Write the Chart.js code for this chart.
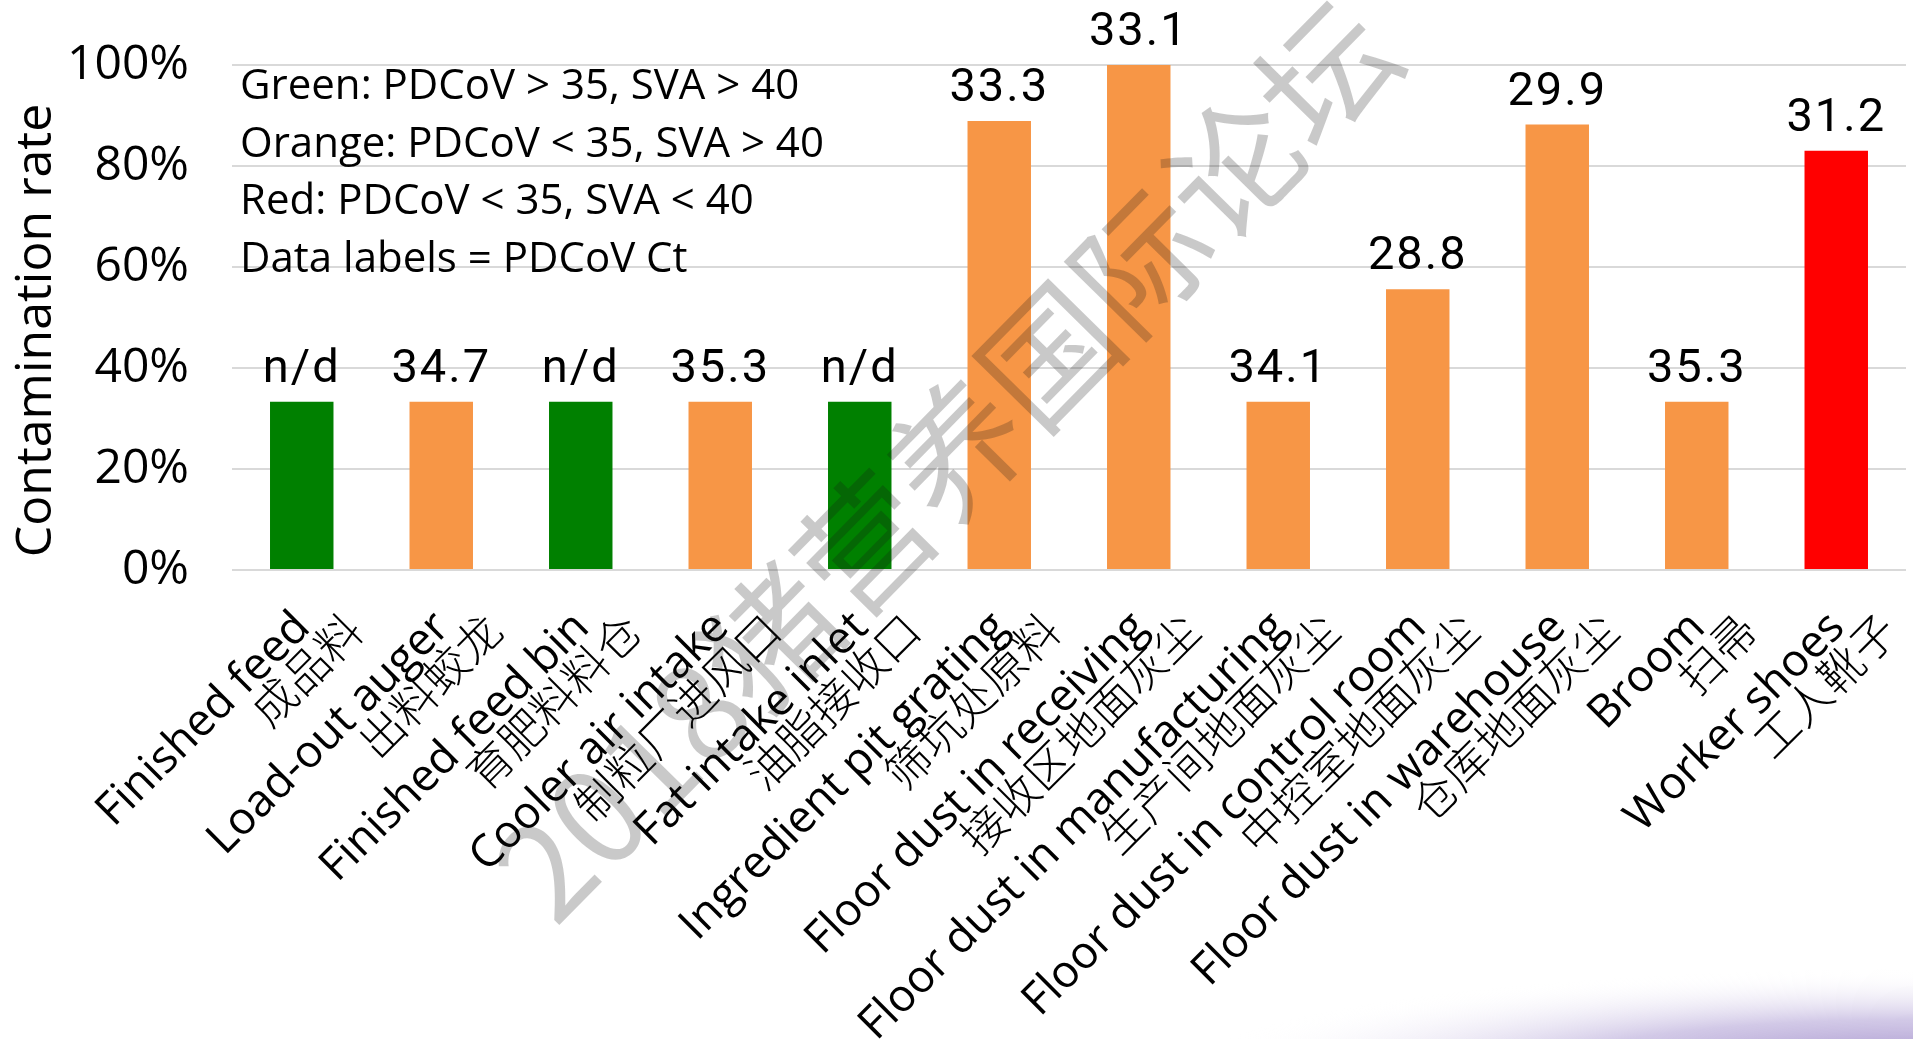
<!DOCTYPE html>
<html>
<head>
<meta charset="utf-8">
<title>Contamination rate</title>
<script src="https://cdn.jsdelivr.net/npm/chart.js@4.4.1/dist/chart.umd.min.js"></script>
<style>
  html, body { margin: 0; padding: 0; background: #fff; }
  #wrap { width: 1913px; height: 1039px; }
</style>
</head>
<body>
<div id="wrap"><canvas id="rateChart"></canvas></div>
<script>
// sampling sites, English / Chinese
const categories = [
  ['Finished feed', '成品料'],
  ['Load-out auger', '出料蛟龙'],
  ['Finished feed bin', '育肥料料仓'],
  ['Cooler air intake', '制粒厂进风口'],
  ['Fat intake inlet', '油脂接收口'],
  ['Ingredient pit grating', '筛坑处原料'],
  ['Floor dust in receiving', '接收区地面灰尘'],
  ['Floor dust in manufacturing', '生产间地面灰尘'],
  ['Floor dust in control room', '中控室地面灰尘'],
  ['Floor dust in warehouse', '仓库地面灰尘'],
  ['Broom', '扫帚'],
  ['Worker shoes', '工人靴子']
];
const contaminationRate = [33.3, 33.3, 33.3, 33.3, 33.3, 88.9, 100, 33.3, 55.6, 88.2, 33.3, 83.0];
const ctLabels = ['n/d', '34.7', 'n/d', '35.3', 'n/d', '33.3', '33.1', '34.1', '28.8', '29.9', '35.3', '31.2'];
const barColors = ['#008000', '#f79646', '#008000', '#f79646', '#008000', '#f79646',
                   '#f79646', '#f79646', '#f79646', '#f79646', '#f79646', '#ff0000'];
const yTicks = [0, 20, 40, 60, 80, 100];
const notes = [
  'Green: PDCoV > 35, SVA > 40',
  'Orange: PDCoV < 35, SVA > 40',
  'Red: PDCoV < 35, SVA < 40',
  'Data labels = PDCoV Ct'
];
const watermark = '2018猪营养国际论坛';

// soft lavender swoosh in the lower right corner
const cornerGlow = {
  id: 'cornerGlow',
  beforeDraw(chart) {
    const ctx = chart.ctx;
    ctx.save();
    ctx.translate(1913, 1070);
    ctx.scale(1, 0.14);
    const g = ctx.createRadialGradient(0, 0, 0, 0, 0, 720);
    g.addColorStop(0, 'rgba(150,128,195,0.95)');
    g.addColorStop(0.5, 'rgba(180,165,215,0.6)');
    g.addColorStop(1, 'rgba(255,255,255,0)');
    ctx.fillStyle = g;
    ctx.fillRect(-800, -800, 1600, 1600);
    ctx.restore();
  }
};

// Ct values above the bars + colour key text
const barText = {
  id: 'barText',
  afterDatasetsDraw(chart) {
    const ctx = chart.ctx;
    const meta = chart.getDatasetMeta(0);
    ctx.save();
    ctx.fillStyle = '#000';
    ctx.font = '47px Roboto';
    ctx.letterSpacing = '2px';
    ctx.textAlign = 'center';
    ctx.textBaseline = 'alphabetic';
    meta.data.forEach((bar, i) => {
      ctx.fillText(ctLabels[i], bar.x, bar.y - 20);
    });

    ctx.letterSpacing = '0px';
    const area = chart.chartArea;
    ctx.font = '42px "Open Sans"';
    ctx.textAlign = 'left';
    notes.forEach((line, i) => {
      ctx.fillText(line, area.left + 8, area.top + 34 + i * 57.5);
    });
    ctx.restore();
  }
};

const stamp = {
  id: 'stamp',
  afterDraw(chart) {
    const ctx = chart.ctx;
    ctx.save();
    ctx.translate(946, 460);
    ctx.rotate(-45.5 * Math.PI / 180);
    ctx.font = '132px "Noto Sans CJK SC"';
    ctx.fillStyle = 'rgba(20,20,20,0.23)';
    ctx.textAlign = 'center';
    ctx.textBaseline = 'middle';
    ctx.fillText(watermark, 0, 0);
    ctx.restore();
  }
};

const ctx = document.getElementById('rateChart').getContext('2d');
const rateChart = new Chart(ctx, {
  type: 'bar',
  data: {
    labels: categories,
    datasets: [{
      label: 'Contamination rate',
      data: contaminationRate,
      backgroundColor: barColors,
      barPercentage: 0.455,
      categoryPercentage: 1
    }]
  },
  options: {
    responsive: true,
    maintainAspectRatio: false,
    animation: false,
    layout: { padding: { top: 65, right: 7, left: 0, bottom: 0 } },
    plugins: {
      legend: { display: false },
      tooltip: { enabled: false }
    },
    scales: {
      x: {
        grid: { display: false, drawTicks: false },
        border: { display: false },
        ticks: {
          autoSkip: false,
          minRotation: 45,
          maxRotation: 45,
          padding: 11,
          labelOffset: 26,
          color: '#000',
          // trailing gap on the English line lets the Chinese line run past it
          callback: function (v, i) {
            const pair = categories[i];
            return [pair[0] + '   ', pair[1]];
          },
          font: { family: '"Open Sans", "Noto Sans CJK SC Light", "Noto Sans CJK SC"', size: 45, lineHeight: 0.92 }
        },
        afterFit: (scale) => {
          scale.height = 469;
          scale.paddingLeft = 0;
          scale.paddingRight = 0;
        }
      },
      y: {
        min: 0,
        max: 100,
        afterBuildTicks: (scale) => { scale.ticks = yTicks.map(v => ({ value: v })); },
        grid: { color: '#d9d9d9', lineWidth: 2, drawTicks: false },
        border: { display: false },
        ticks: {
          padding: 43,
          color: '#000',
          font: { family: '"Open Sans"', size: 48 },
          callback: (v) => v + '%'
        },
        title: {
          display: true,
          text: 'Contamination rate  ',
          color: '#000',
          padding: { top: 7, bottom: 0 },
          font: { family: '"Open Sans"', size: 50, lineHeight: 1.2 }
        },
        afterFit: (scale) => {
          scale.width = 232;
          scale.paddingTop = 0;
          scale.paddingBottom = 0;
        }
      }
    }
  },
  plugins: [cornerGlow, barText, stamp]
});
</script>
</body>
</html>
